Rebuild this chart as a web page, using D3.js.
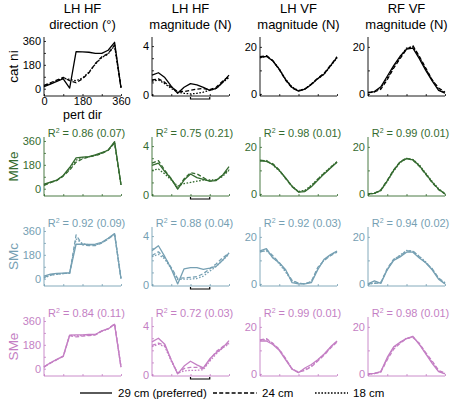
<!DOCTYPE html>
<html><head><meta charset="utf-8">
<script src="https://cdn.jsdelivr.net/npm/d3@7"></script>
<style>body{margin:0;background:#fff}svg{font-family:"Liberation Sans",Arial,sans-serif}</style>
</head><body><svg id="c" width="452" height="402"></svg>
<script>
// perturbation directions (deg)
const pertDirs = [0,30,60,90,120,150,180,210,240,270,300,330,360];
const columnTitles = [["LH HF","direction (°)"],["LH HF","magnitude (N)"],["LH VF","magnitude (N)"],["RF VF","magnitude (N)"]];
const rowNames = ["cat ni","MMe","SMc","SMe"];
const rowColors = ["#000000","#356b30","#76a0b3","#c47fc4"];
const r2Labels = [
  [null,null,null,null],
  ["0.86 (0.07)","0.75 (0.21)","0.98 (0.01)","0.99 (0.01)"],
  ["0.92 (0.09)","0.88 (0.04)","0.92 (0.03)","0.94 (0.02)"],
  ["0.84 (0.11)","0.72 (0.03)","0.99 (0.01)","0.98 (0.01)"]
];
const legendLabels = ["29 cm (preferred)","24 cm","18 cm"];
const dirTicks = [0,180,360], magTicks = [0,4], vfTicks = [0,20];

// each panel: [29 cm solid, 24 cm dashed, 18 cm dotted]
const catniDir = [[15,35,55,75,5,280,278,275,266,266,290,350,7],[25,45,65,85,60,45,75,120,190,240,265,330,10],[20,40,60,80,70,60,80,125,185,235,262,325,8]];
const catniHFmag = [[1.6,1.8,1.4,0.7,0.1,0.6,0.9,0.8,0.6,0.35,0.5,1.0,1.6],[1.2,1.3,1.0,0.6,0.25,0.25,0.35,0.45,0.5,0.4,0.6,1.1,1.5],[1.1,1.2,0.9,0.5,0.2,0.1,0.05,0.1,0.2,0.35,0.5,1.0,1.4]];
const catniLHVF = [[15.5,16,14,10.5,6,2.7,1.2,2,4,6.5,8.5,12,15.5],[15.8,16.3,14.2,10.3,5.8,2.5,1.3,2.1,4.2,6.7,8.8,12.2,15.8],[15.3,16.1,14.1,10.6,6.2,2.9,1.4,2.2,4.1,6.4,8.4,11.8,15.3]];
const catniRFVF = [[0.5,1,3,7.5,12,16,19,19.5,15,10,5.5,1.5,0.3],[0.5,0.8,2,6,11,15,19,20.5,16,11,6,2.5,0.8],[0.6,0.9,2.5,6.8,11.5,15.5,19.5,20,15.5,10.5,6,2,0.5]];

const mmeDir = [[35,50,65,100,160,232,238,242,255,272,290,355,30],[25,45,62,95,140,200,225,240,250,265,290,345,30],[28,47,63,97,150,215,232,241,252,268,292,350,28]];
const mmeHFmag = [[2.4,2.6,1.9,1.3,0.45,1.2,1.7,1.4,1.25,1.1,1.15,1.6,2.3],[2.6,2.8,2.0,1.3,0.5,1.3,1.8,1.7,1.4,1.1,1.2,1.6,2.1],[2.0,2.1,1.7,1.2,0.7,0.9,1.0,1.1,1.2,1.2,1.2,1.5,2.0]];
const mmeLHVF = [[14,13.8,12.5,10,6.8,3.2,0.8,1,3,5.8,8.5,11,13.5],[14.3,14,12.8,10.2,6.5,3,0.9,1.3,3.4,6.2,8.8,11.2,13.6],[14.1,14.2,12.3,9.8,6.6,3.3,1,1.5,3.6,6.3,8.9,11.4,13.7]];
const mmeRFVF = [[0,0.2,1.5,5.5,10,13.5,15,14.5,12,8.5,5,2,0],[0,0.3,1.7,5.8,10.2,13.7,15.2,14.3,11.8,8.3,4.8,1.8,0],[0,0.2,1.4,5.3,9.8,13.3,15.1,14.6,12.3,8.8,5.3,2.2,0.1]];

const smcDir = [[20,35,40,42,45,260,260,258,260,275,305,340,0],[10,28,35,40,40,330,255,250,250,268,300,335,0],[5,25,33,38,42,300,265,255,255,270,302,338,0]];
const smcHFmag = [[2.8,3.2,2.3,1.3,0.05,1.3,1.4,1.4,1.25,1.35,1.5,2.0,2.6],[2.4,2.7,2.2,1.4,0.5,0.55,0.6,0.65,0.9,1.3,1.7,2.2,2.6],[2.3,2.5,2.1,1.3,0.4,0.45,0.45,0.5,0.7,1.1,1.5,2.0,2.5]];
const smcLHVF = [[14,15,11,9,6,0.5,0,0,0.5,6,10.5,12.5,14],[13.5,14.5,12,9,5.5,1.5,0.3,0,1,7,10,12,13.5],[13.8,14,11.5,8.5,5,1.2,0.2,0.1,0.8,6.5,10.2,12.2,13.8]];
const smcRFVF = [[0,1.3,0.2,6,10,11.5,13.5,13.5,11,9,6,2,0],[0,0.2,0.5,6.5,10.5,12,14,14,11.5,9,6.5,2.5,0.5],[0,0.3,0.6,6.2,10.2,12.2,14.2,13.8,11.8,9.3,6.3,2.3,0.3]];

const smeDir = [[15,45,70,95,254,255,255,258,258,285,300,335,12],[12,42,68,92,250,240,245,250,255,283,302,338,12],[14,44,69,94,252,248,250,254,256,284,301,336,12]];
const smeHFmag = [[2.7,3.0,2.5,1.2,0.05,0.7,1.1,0.8,0.55,1.3,1.8,2.2,2.8],[2.4,2.6,2.4,1.2,0.1,0.5,0.6,0.6,0.5,1.2,1.9,2.3,2.6],[2.3,2.5,2.3,1.1,0.1,0.3,0.35,0.35,0.4,1.1,1.7,2.2,2.5]];
const smeLHVF = [[14,14,12.5,10,6,2,0.5,2.5,4,6,8.5,11.5,14],[14.5,15,13,10.5,6.5,2,0.8,1.5,3,5.5,8,11,13.5],[14.3,14.6,12.8,10.3,6.3,2.2,0.7,1.8,3.3,5.8,8.2,11.2,13.8]];
const smeRFVF = [[0,0.2,1,7,11.5,13.5,15,16,12.5,8.5,4.5,1,0],[0,0.1,0.8,6,10.5,13,15,15.5,13,9,5.5,1.5,0.3],[0,0.1,0.9,6.5,11,13.2,15.2,15.8,12.8,8.8,5,1.2,0.2]];

const panels = [
  [catniDir, catniHFmag, catniLHVF, catniRFVF],
  [mmeDir, mmeHFmag, mmeLHVF, mmeRFVF],
  [smcDir, smcHFmag, smcLHVF, smcRFVF],
  [smeDir, smeHFmag, smeLHVF, smeRFVF]
];

const svg = d3.select("#c");
const colX = [44,152,260,368], plotW = 77;
const rowTop = [37,137,227,317], plotH = 59;
const yDomains = [[-55,390],[-0.12,4.75],[-0.9,24.2],[-0.9,24.2]];
const yTicksAll = [[0,90,180,270,360],[0,1,2,3,4],[0,10,20],[0,10,20]];
const yLabels = [dirTicks, magTicks, vfTicks, vfTicks];
const dashes = [null,"4,2.2","1.6,1.6"];

// titles
columnTitles.forEach((t,c)=>{
  t.forEach((s,i)=>svg.append("text").attr("x",colX[c]+plotW/2).attr("y",12.5+i*16)
    .attr("text-anchor","middle").attr("font-size",13).text(s));
});

for(let r=0;r<4;r++){
  const col = rowColors[r];
  svg.append("text").attr("transform",`translate(${18},${rowTop[r]+plotH/2}) rotate(-90)`)
    .attr("text-anchor","middle").attr("font-size",13.5).attr("fill",col).text(rowNames[r]);
  for(let c=0;c<4;c++){
    const g = svg.append("g").attr("transform",`translate(${colX[c]},${rowTop[r]})`);
    const x = d3.scaleLinear().domain([0,360]).range([0,plotW]);
    const y = d3.scaleLinear().domain(yDomains[c]).range([plotH,0]);
    // axes
    const ya = g.append("g").call(d3.axisLeft(y).tickValues(yTicksAll[c]).tickSize(-2)
      .tickFormat(d=>yLabels[c].includes(d)?d:"").tickPadding(3));
    const xa = g.append("g").attr("transform",`translate(0,${plotH})`)
      .call(d3.axisBottom(x).tickValues([0,90,180,270,360]).tickSize(-2)
      .tickFormat(d=>(r===0&&c===0&&[0,180,360].includes(d))?d:"").tickPadding(1.5));
    [ya,xa].forEach(a=>{
      a.selectAll(".tick line").attr("stroke",col).attr("stroke-width",0.8);
      a.selectAll("text").attr("fill",col).attr("font-size",11).attr("font-family","Liberation Sans, Arial, sans-serif");
    });
    ya.select(".domain").remove(); xa.select(".domain").remove();
    g.append("line").attr("x1",0).attr("x2",0).attr("y1",0).attr("y2",plotH).attr("stroke",col).attr("stroke-width",0.9);
    g.append("line").attr("x1",0).attr("x2",plotW).attr("y1",plotH).attr("y2",plotH).attr("stroke",col).attr("stroke-width",0.9);
    // lines
    const line = d3.line().x((d,i)=>x(pertDirs[i])).y(d=>y(d));
    panels[r][c].forEach((s,k)=>{
      g.append("path").attr("d",line(s)).attr("fill","none").attr("stroke",col)
        .attr("stroke-width",1.3).attr("stroke-dasharray",dashes[k]).attr("stroke-linejoin","round");
    });
    if(r2Labels[r][c]){
      const t = g.append("text").attr("x",plotW/2+4).attr("y",0).attr("text-anchor","middle")
        .attr("font-size",11).attr("fill",col);
      t.append("tspan").text("R");
      t.append("tspan").attr("font-size",7).attr("dy",-4).text("2");
      t.append("tspan").attr("dy",4).text(" = "+r2Labels[r][c]);
    }
    if(c===1){
      const by = plotH+3;
      g.append("path").attr("d",`M${x(180)},${by-2}V${by}H${x(270)}V${by-2}`)
        .attr("fill","none").attr("stroke","#000").attr("stroke-width",1.2);
    }
    if(r===0&&c===0){
      g.append("text").attr("x",plotW/2).attr("y",plotH+23).attr("text-anchor","middle")
        .attr("font-size",12.5).text("pert dir");
    }
  }
}
// legend
const legY = 393;
const legX = [[80,112,118],[213,257,262],[315,348,353]];
legendLabels.forEach((l,i)=>{
  svg.append("line").attr("x1",legX[i][0]).attr("x2",legX[i][1]).attr("y1",legY).attr("y2",legY)
    .attr("stroke","#000").attr("stroke-width",1.3).attr("stroke-dasharray",dashes[i]);
  svg.append("text").attr("x",legX[i][2]).attr("y",legY+4).attr("font-size",11.5).text(l);
});
</script></body></html>
